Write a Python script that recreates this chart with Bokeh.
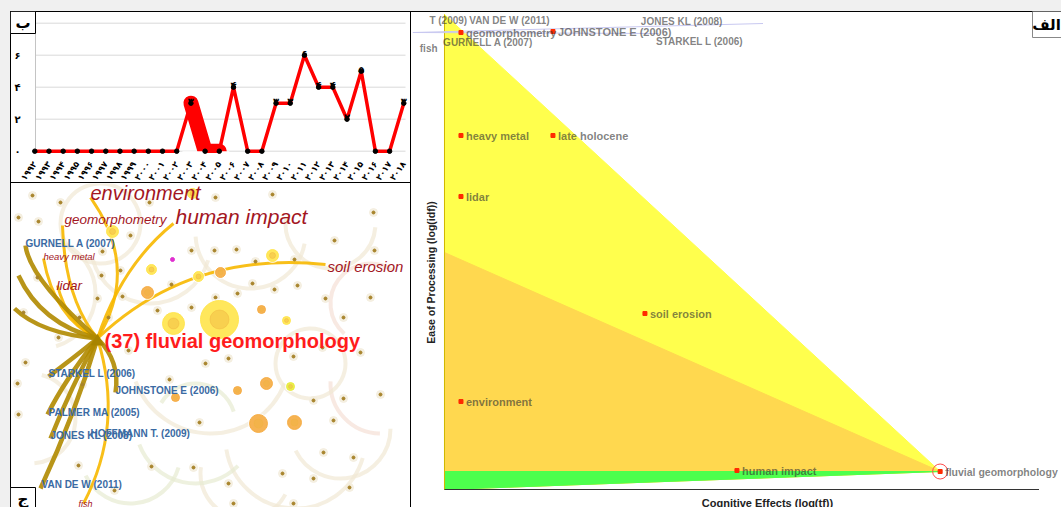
import math
from bokeh.plotting import figure
from bokeh.models import ColumnDataSource
from bokeh.layouts import row, column
from bokeh.core.properties import value
from bokeh.embed import file_html
from bokeh.resources import INLINE

# ---------------- panel ب : documents per year ----------------
years = [1992, 1993, 1994, 1995, 1996, 1997, 1998, 1999, 2000, 2001, 2002,
         2003, 2004, 2005, 2006, 2007, 2008, 2009, 2010, 2011, 2012, 2013,
         2014, 2015, 2016, 2017, 2018]
counts = [0, 0, 0, 0, 0, 0, 0, 0, 0, 0, 0,
          3, 0, 0, 4, 0, 0, 3, 3, 6, 4, 4,
          2, 5, 0, 0, 3]
burst_years = [2003, 2004, 2005]
count_ticks = [0, 2, 4, 6, 8]

# ---------------- panel ج : keyword / reference network (layout coords) ----
hub = [87, 155]
kw_text = ["environment", "human impact", "geomorphometry", "heavy metal",
           "lidar", "soil erosion", "fish"]
kw_x = [80, 165, 54, 33, 46, 317, 68]
kw_y = [9, 33, 36, 73, 102, 83, 320]

ref_text = ["GURNELL A (2007)", "STARKEL L (2006)", "JOHNSTONE E (2006)",
            "PALMER MA (2005)", "HOFFMANN T. (2009)", "JONES KL (2008)",
            "VAN DE W (2011)"]
ref_x = [15, 38, 105, 38, 80, 40, 31]
ref_y = [60, 190, 207, 229, 250, 252, 301]

center_text = ["(37) fluvial geomorphology"]
center_x = [94]
center_y = [157]

edge_x1 = [80, 163, 52, 33, 47, 315, 73, 15, 38, 105, 37, 40, 30, 8, 4]
edge_y1 = [14, 40, 42, 75, 102, 81, 320, 62, 193, 209, 231, 255, 305, 92, 125]
edge_cx = [130, 111, 54, 44, 57, 180, 114, 19, 61, 110, 54, 60, 65, 30, 30]
edge_cy = [85, 82, 115, 135, 141, 67, 242, 95, 176, 178, 197, 205, 230, 140, 150]
edge_kind = ["term"] * 7 + ["ref"] * 8

node_x = [209, 163, 137, 102, 141, 188, 210, 262, 251, 276, 256, 227, 280, 165, 248, 284, 182]
node_y = [136, 140, 109, 48, 86, 93, 89, 72, 126, 137, 200, 207, 203, 214, 240, 239, 10]
node_r = [19, 11, 6, 6, 5, 5, 5, 6, 4, 4, 6, 4, 4, 4, 9, 7, 5]
node_kind = ["y", "y", "o", "y", "y", "y", "o", "y", "o", "y", "o", "o", "g", "o", "o", "o", "y"]

dot_x = [22, 50, 139, 205, 262, 363, 324, 364, 8, 28, 92, 120, 181, 204, 226,
         245, 284, 27, 110, 91, 161, 242, 287, 315, 360, 264, 87, 112, 181, 205,
         147, 227, 333, 13, 69, 98, 48, 15, 118, 195, 218, 283, 350, 312, 159,
         8, 7, 72, 303, 333, 370, 323, 313, 343, 141, 183, 68, 272, 303, 339,
         218, 104, 283, 223, 189]
dot_y = [12, 19, 19, 14, 11, 29, 57, 67, 34, 38, 68, 52, 67, 67, 66,
         78, 76, 94, 87, 92, 101, 100, 102, 115, 114, 106, 115, 113, 124, 114,
         127, 110, 134, 129, 134, 134, 154, 179, 167, 180, 175, 173, 169, 164, 196,
         231, 200, 201, 217, 215, 211, 237, 269, 274, 283, 284, 282, 290, 295, 304,
         300, 307, 320, 320, 239]

arc_x = [285, 330, 235, 185, 185, 140, 240, 320, 360, 30, 20, 370, 120, 200, 300, 90]
arc_y = [255, 245, 290, 240, 240, 60, 50, 40, 120, 110, 235, 200, 270, 170, 180, 40]
arc_r = [70, 50, 45, 60, 40, 60, 55, 45, 40, 55, 45, 50, 50, 80, 35, 40]
arc_a0 = [3.3, 3.6, 3.0, 3.5, 0.3, 3.4, 3.2, 3.0, 1.0, 5.0, 4.8, 3.1, 3.6, 3.5, 0.0, 0.0]
arc_a1 = [6.0, 6.28, 5.8, 5.5, 2.6, 6.0, 6.1, 6.2, 4.0, 7.5, 7.6, 4.7, 6.0, 5.9, 6.28, 6.28]
arc_kind = ["b", "b", "b", "g", "g", "b", "b", "b", "p", "b", "b", "p", "g", "b", "b", "b"]

# ---------------- panel الف : relevance map ----------------
marked_names = ["geomorphometry", "JOHNSTONE E (2006)", "heavy metal", "late holocene",
                "lidar", "soil erosion", "environment", "human impact",
                "fluvial geomorphology"]
marked_tf = [0.12, 0.79, 0.12, 0.79, 0.12, 1.46, 0.12, 2.13, 3.61]
marked_idf = [4.57, 4.58, 3.54, 3.54, 2.93, 1.76, 0.88, 0.19, 0.18]
plain_names = ["T (2009)", "VAN DE W (2011)", "JONES KL (2008)", "fish",
               "GURNELL A (2007)", "STARKEL L (2006)"]
plain_tf = [-0.11, 0.18, 1.43, -0.18, -0.01, 1.54]
plain_idf = [4.69, 4.69, 4.68, 4.41, 4.47, 4.48]
zone_top = [4.75, 2.37, 0.18]
link_x0 = [-0.23, -0.23]
link_y0 = [4.57, 4.57]
link_x1 = [2.32, 1.56]
link_y1 = [4.66, 4.56]
axis_extent = [0, 4.33]

FA = str.maketrans("0123456789", "۰۱۲۳۴۵۶۷۸۹")


def fa(n):
    return str(n).translate(FA)


AR = value("DejaVu Sans")
ARIAL = value("Liberation Sans")
COMMON = dict(output_backend="svg", toolbar_location=None,
              x_axis_location=None, y_axis_location=None,
              min_border_left=0, min_border_right=0, min_border_top=0, min_border_bottom=0)


def bare(p, shadow):
    p.background_fill_color = None
    p.border_fill_color = None
    p.outline_line_color = None
    p.grid.visible = False
    p.styles = {"background": "white", "box-shadow": shadow}


def corner_box(p, x, y, w, h, tx, txt, border):
    p.rect([x], [y], width=w, height=h, width_units="screen", height_units="screen",
           fill_color="white", line_color=border, line_width=1)
    p.text([tx], [y], [txt], text_align="center", text_baseline="middle",
           text_font=AR, text_font_style="bold", text_font_size="15px", text_color="#000")


# ======================= panel ب =======================
W1, H1 = 401, 172
X0_1, SX_1, Y1_1, SY_1 = 1990.288, 14.192, 8.731, 16.0


def d1(px, py):
    return X0_1 + px / SX_1, Y1_1 - py / SY_1


p1 = figure(width=W1, height=H1, x_range=(X0_1, X0_1 + W1 / SX_1),
            y_range=(Y1_1 - H1 / SY_1, Y1_1), **COMMON)
bare(p1, "inset 0 0 0 1px #000")
gx0, _ = d1(25, 0)
gx1, _ = d1(395, 0)
p1.segment([gx0] * len(count_ticks), count_ticks, [gx1] * len(count_ticks), count_ticks,
           line_color="#d9d9d9", line_width=1)
p1.segment([gx0], [count_ticks[0]], [gx0], [count_ticks[-1]], line_color="#c4c4c4", line_width=1)
ylx, _ = d1(7, 0)
p1.text([ylx] * (len(count_ticks) - 1), count_ticks[:-1], [fa(t) for t in count_ticks[:-1]],
        text_align="center", text_baseline="middle", text_font=AR, text_font_style="bold",
        text_font_size="10px", text_color="#000")
p1.text(years, [-0.7] * len(years), [fa(y) for y in years], angle=0.96,
        text_align="right", text_baseline="middle", text_font=AR, text_font_style="bold",
        text_font_size="8.5px", text_color="#000")

burst_counts = [counts[years.index(y)] for y in burst_years]
p1.line(burst_years, burst_counts, line_color="#ff0000", line_width=15,
        line_cap="round", line_join="round")
p1.quad(left=[burst_years[0] - 0.6], right=[burst_years[-1] + 0.7], top=[0], bottom=[-0.6],
        fill_color="white", line_color=None)
p1.line(years, counts, line_color="#ff0000", line_width=3.5, line_join="round")
p1.scatter(years, counts, size=4.5, color="#000000")
lab_src = ColumnDataSource(dict(
    x=[y for y, c in zip(years, counts) if c > 0],
    y=[c for c in counts if c > 0],
    t=[fa(c) for c in counts if c > 0]))
p1.text("x", "y", "t", source=lab_src, text_align="center", text_baseline="middle",
        y_offset=-2, text_font=AR, text_font_style="bold",
        text_font_size="10px", text_color="#000")
bx, by = d1(12.5, 11)
corner_box(p1, bx, by, 25, 22, bx, "ب", "#000")

# ======================= panel ج =======================
W2, H2 = 401, 324
p2 = figure(width=W2, height=H2, x_range=(0, W2), y_range=(H2, 0), **COMMON)
bare(p2, "inset 1px 0 0 #000, inset -1px 0 0 #000")

arc_colors = {"b": "#f1e8d4", "g": "#e7ebd2", "p": "#f5e0d6"}
p2.arc(arc_x, arc_y, radius=arc_r, start_angle=arc_a0, end_angle=arc_a1,
       line_color=[arc_colors[k] for k in arc_kind], line_width=4, line_alpha=0.7)
p2.scatter(dot_x, dot_y, size=8, color="#f2ecdc", alpha=0.8)
edge_src = ColumnDataSource(dict(
    x0=[hub[0]] * len(edge_x1), y0=[hub[1]] * len(edge_x1),
    x1=edge_x1, y1=edge_y1, cx=edge_cx, cy=edge_cy,
    c=["#f7b800" if k == "term" else "#b08a00" for k in edge_kind],
    w=[3 if k == "term" else 4.5 for k in edge_kind]))
p2.quadratic("x0", "y0", "x1", "y1", "cx", "cy", source=edge_src,
             line_color="c", line_width="w", line_alpha=0.9)
p2.scatter(dot_x, dot_y, size=3, color="#a8842c")
node_colors = {"y": "#ffe44a", "o": "#f5ab40", "g": "#e8ec3a"}
p2.scatter(node_x, node_y, size=[2 * r + 2 for r in node_r], color="white", alpha=0.7)
p2.scatter(node_x, node_y, size=[2 * r for r in node_r],
           color=[node_colors[k] for k in node_kind], alpha=0.9)
p2.scatter(node_x, node_y, size=node_r, color="#f0b440", alpha=0.45)
p2.scatter([162], [76], size=4, color="#e030d0")
p2.scatter([hub[0]], [hub[1] + 3], marker="triangle", size=12, color="#a88400")

kw_font = {"environment": "20px", "human impact": "21px", "geomorphometry": "13.5px",
           "heavy metal": "9.5px", "lidar": "13.5px", "soil erosion": "15px", "fish": "9px"}
kw_src = ColumnDataSource(dict(x=kw_x, y=kw_y, t=kw_text, s=[kw_font[t] for t in kw_text]))
p2.text("x", "y", "t", source=kw_src, text_font=ARIAL, text_font_style="italic",
        text_font_size="s", text_color="#a3161f", text_baseline="middle")
ref_src = ColumnDataSource(dict(x=ref_x, y=ref_y, t=ref_text))
p2.text("x", "y", "t", source=ref_src, text_font=ARIAL, text_font_style="bold",
        text_font_size="10px", text_color="#3a6aa3", text_baseline="middle")
p2.text(center_x, center_y, center_text, text_font=ARIAL, text_font_style="bold",
        text_font_size="20px", text_color="#ff1c1c", text_baseline="middle")
corner_box(p2, 12.5, 315, 25, 22, 12.5, "ج", "#000")

# ======================= panel الف =======================
W3, H3 = 650, 496
X0_3, SX_3, Y1_3, SY_3 = -0.2403, 137.3, 4.78, 100.0


def d3(px, py):
    return X0_3 + px / SX_3, Y1_3 - py / SY_3


p3 = figure(width=W3, height=H3, x_range=(X0_3, X0_3 + W3 / SX_3),
            y_range=(Y1_3 - H3 / SY_3, Y1_3), **COMMON)
bare(p3, "inset 0 1px 0 #000")

fx, fy = marked_tf[-1], marked_idf[-1]
for top, col in zip(zone_top, ["#ffff4d", "#ffd84f", "#4dff4d"]):
    p3.patch([0, fx, 0], [top, fy, 0], color=col, line_color=col)
p3.segment([0], [0], [0], [zone_top[0]], line_color="#d0b800", line_width=1)
p3.segment([axis_extent[0]], [0], [axis_extent[1]], [0], line_color="#333333", line_width=1)
p3.segment(link_x0, link_y0, link_x1, link_y1, line_color="#c8c8f0", line_width=1)

txt_kw = dict(text_font=ARIAL, text_font_style="bold", text_color="#333333",
              text_alpha=0.62, text_baseline="middle")
p3.scatter(marked_tf, marked_idf, marker="square", size=4, color="#ff2a00")
p3.scatter([fx], [fy], marker="circle", size=15, fill_color=None,
           line_color="#ff4a4a", line_width=1)
mark_font = ["10.5px" if n == "fluvial geomorphology" else "11px" for n in marked_names]
p3.text(marked_tf, marked_idf, marked_names, x_offset=5, text_font_size=mark_font, **txt_kw)
p3.text(plain_tf, plain_idf, plain_names, text_font_size="10px", **txt_kw)

yt_x, yt_y = d3(19, 261)
p3.text([yt_x], [yt_y], ["Ease of Processing (log(idf))"], angle=math.pi / 2,
        text_align="center", text_baseline="middle", text_font=ARIAL,
        text_font_style="bold", text_font_size="10.5px", text_color="#222")
xt_x, xt_y = d3(356, 491)
p3.text([xt_x], [xt_y], ["Cognitive Effects (log(tf))"],
        text_align="center", text_baseline="middle", text_font=ARIAL,
        text_font_style="bold", text_font_size="11px", text_color="#222")
cb_x, cb_y = d3(640, 13)
ct_x, _ = d3(635, 13)
corner_box(p3, cb_x, cb_y, 38, 26, ct_x, "الف", "#888")

layout = row(column(p1, p2), p3)
layout.styles = {"padding-left": "10px", "padding-top": "11px", "background": "#f0f0f0"}
open("out.html", "w").write(file_html(layout, INLINE))
